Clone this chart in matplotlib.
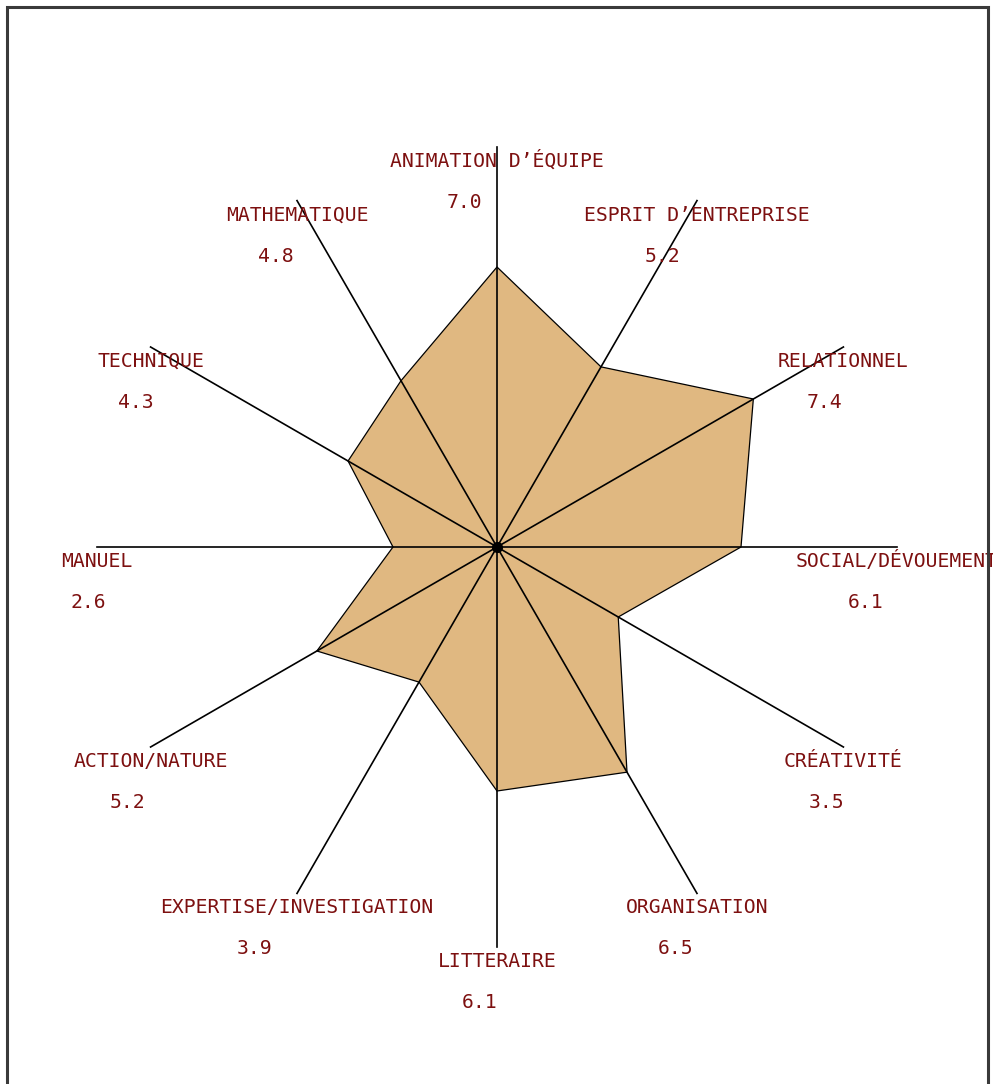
import numpy as np
import matplotlib
matplotlib.use("Agg")
import matplotlib.pyplot as plt
from matplotlib.patches import Rectangle

categories = ["ANIMATION D’ÉQUIPE", "ESPRIT D’ENTREPRISE", "RELATIONNEL",
              "SOCIAL/DÉVOUEMENT", "CRÉATIVITÉ", "ORGANISATION", "LITTERAIRE",
              "EXPERTISE/INVESTIGATION", "ACTION/NATURE", "MANUEL", "TECHNIQUE",
              "MATHEMATIQUE"]
values = [7.0, 5.2, 7.4, 6.1, 3.5, 6.5, 6.1, 3.9, 5.2, 2.6, 4.3, 4.8]
r_max = 10

W, H = 993, 1084
fig = plt.figure(figsize=(W / 100, H / 100), dpi=100)
fig.patch.set_facecolor("white")

cx, cy, R = 497, 547, 400
ax = fig.add_axes([(cx - R) / W, (H - cy - R) / H, 2 * R / W, 2 * R / H], projection="polar")
ax.set_theta_zero_location("N")
ax.set_theta_direction(-1)
ax.set_ylim(0, r_max)
ax.axis("off")

n = len(categories)
theta = np.arange(n) * 2 * np.pi / n
tc = np.append(theta, theta[0])
vc = np.append(values, values[0])

ax.fill(tc, vc, facecolor="#E0B881", edgecolor="black", linewidth=0.9, zorder=2)
for t in theta:
    ax.plot([t, t], [0, r_max], color="black", linewidth=1.2, zorder=3, clip_on=False)
ax.plot([0], [0], "o", color="black", markersize=7, zorder=4)

txt_color = "#7D1010"
font = dict(family="DejaVu Sans Mono", size=14.2, color=txt_color)
for t, lab, v in zip(theta, categories, values):
    ax.annotate(lab, xy=(t, r_max), xytext=(0, -20), textcoords="offset pixels",
                ha="center", va="baseline", annotation_clip=False, **font)
    ax.annotate(f"{v:.1f}", xy=(t, r_max), xytext=(-2 * len(lab) + 3, -61),
                textcoords="offset pixels", ha="center", va="baseline",
                annotation_clip=False, **font)

fig.add_artist(Rectangle((7 / W, -0.01), (988 - 7) / W, (H - 7) / H + 0.01,
                         transform=fig.transFigure, fill=False, lw=2.2,
                         edgecolor="#3a3a3a", zorder=10))

fig.savefig("out.png", dpi=100)
